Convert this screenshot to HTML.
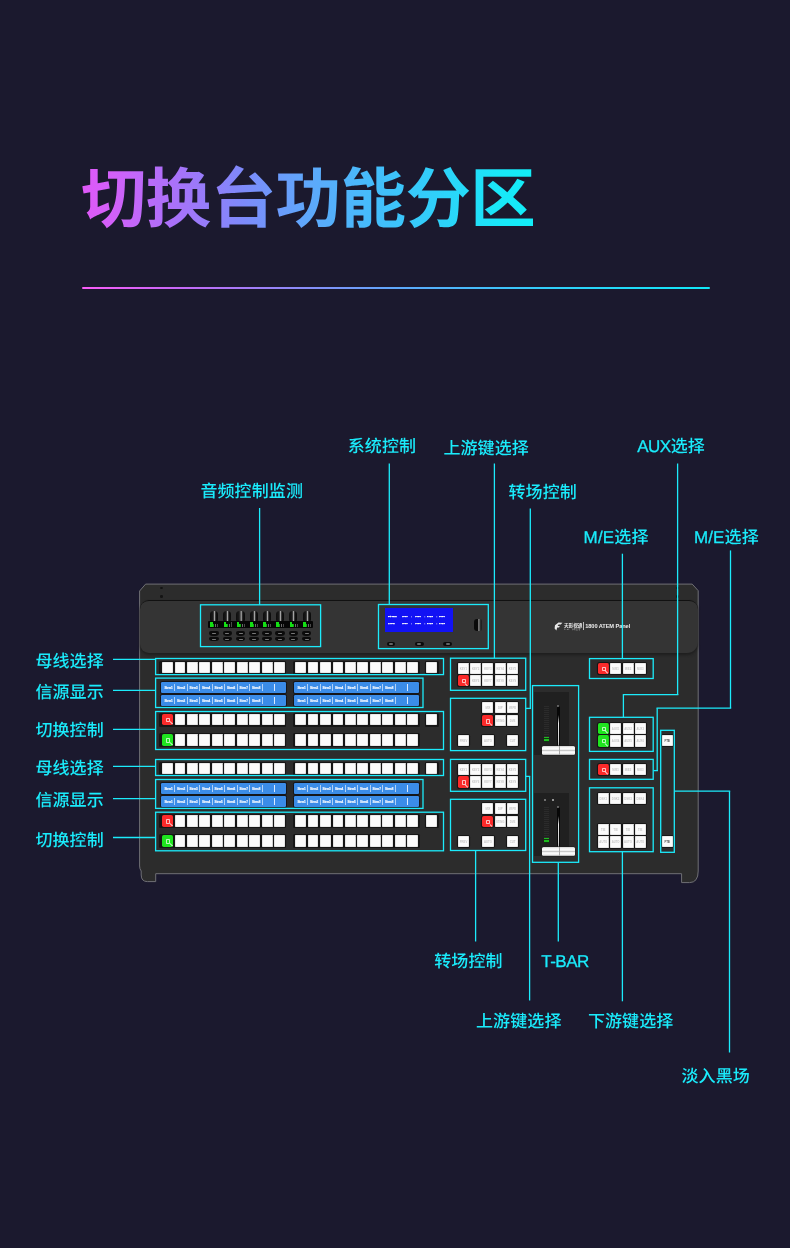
<!DOCTYPE html>
<html lang="zh-CN"><head><meta charset="utf-8"><title>切换台功能分区</title>
<style>
html,body{margin:0;padding:0}
body{width:790px;height:1248px;background:#1b192e;position:relative;overflow:hidden;font-family:"Liberation Sans","Noto Sans CJK SC",sans-serif}
#pg{position:absolute;left:0;top:0;width:790px;height:1248px;overflow:hidden;will-change:transform}
#pg div,#pg i,#pg span.abs{position:absolute;box-sizing:border-box}
h1{position:absolute;left:80.9px;top:152.9px;margin:0;font-size:65.5px;line-height:94px;font-weight:700;letter-spacing:-0.6px;text-rendering:geometricPrecision;white-space:nowrap;background:linear-gradient(90deg,#e058f8 0%,#d260f9 7%,#bd6af9 14%,#a872f9 21%,#7d8afa 36%,#6c9afb 43%,#5ea8fb 50%,#45bcfb 64%,#2ed2fa 79%,#18e8f8 93%,#12eef8 100%);-webkit-background-clip:text;background-clip:text;color:transparent;-webkit-text-fill-color:transparent}
.rule{left:82px;top:286.8px;width:628px;height:2.4px;background:linear-gradient(90deg,#fa5cf8,#c868f8 15%,#8a8cf9 35%,#5ea8fb 50%,#30d0fa 75%,#10e8f8);border-radius:1px}
.lb{text-rendering:geometricPrecision;color:#1aebfb;font-size:17px;line-height:20px;height:20px;margin-top:-0.5px;margin-left:-1.0px;white-space:nowrap;font-weight:500;letter-spacing:0.1px}
.lb span{letter-spacing:-0.5px;-webkit-text-stroke:0.3px #1aebfb}
.ov{position:absolute;left:0;top:0}
.scr{width:3px;height:2.2px;border-radius:50%;background:#141414}
.pinset{left:140.2px;top:600.1px;width:557.9px;height:52.6px;background:#343434;border-radius:9px 9px 11px 9px;border-top:1px solid #111;box-shadow:0 2px 3px 0 #1e1e1e}
.well{background:#171717;border-radius:1.5px}
i.b{position:absolute;display:block;background:#fbfbfb;border-radius:1.3px;box-shadow:0 0 0 1.1px #161616, inset 0 0 0 0.6px #d8d8d8;font-style:normal;font-size:2.8px;line-height:13.2px;text-align:center;color:#c8c8c8;overflow:hidden;font-weight:700;white-space:nowrap}
i.r{background:#fb2a2a;border-radius:1.8px;box-shadow:0 0 0 1.1px #161616}
i.g{background:#1fe51f;border-radius:1.8px;box-shadow:0 0 0 1.1px #161616}
i.b u{text-decoration:none;color:#555}
i.r:after,i.g:after{content:"";position:absolute;left:3.8px;top:4px;width:4.3px;height:4.3px;box-sizing:border-box;border:0.9px solid rgba(255,255,255,.7);border-radius:0.8px}
i.r:before,i.g:before{content:"";position:absolute;left:7.7px;top:7.5px;width:4px;height:1px;background:rgba(255,255,255,.8);transform:rotate(45deg);transform-origin:0 50%}
.disp{width:124.4px;height:11.2px;background:#3b8ce8;border-radius:1.2px;box-shadow:0 0 0 1px #15161a;display:flex!important}
.disp{padding-left:1.4px;color:#eef5ff;font-size:3px;line-height:8.4px;text-align:center;font-weight:700;-webkit-text-stroke:0.2px #eef5ff}
.disp b{display:block;flex:1;border-right:1px solid rgba(225,238,255,.7);margin:2.4px 0;position:relative;overflow:hidden;letter-spacing:-0.05px}
.disp b:nth-child(9){border-right-color:#dbeaff}
.disp b:nth-child(10){border-right:none;flex:0.9}
.astrip{left:207.8px;top:621px;width:105.3px;height:7px;background:#060606;border-radius:1px}
.knob{width:8.2px;height:10.6px;background:linear-gradient(90deg,#0c0c0c 0,#1a1a1a 35%,#4a4a4a 48%,#b5b5b5 58%,#3a3a3a 68%,#111 80%,#0a0a0a);border-radius:3.5px 3.5px 1px 1px}
.led{width:8px;height:4.6px;background:linear-gradient(90deg,#14e014 0 2.8px,#0fa80f 2.8px 4px,#060606 4px 5px,#6a6a6a 5px 6px,#060606 6px 6.8px,#4a4a4a 6.8px 7.6px,#060606 7.6px)}
.led:after{content:"";position:absolute;left:2.8px;top:0;width:5.2px;height:1.6px;background:#060606}
.sb{width:9.6px;height:4.3px;background:#0b0b0b;border-radius:2px 2px 4px 4px / 2px 2px 3px 3px}
.sb:after{content:"";position:absolute;left:2.8px;top:1.5px;width:4px;height:1.3px;background:#777;border-radius:1px}
.lcd{left:385.3px;top:608.4px;width:68px;height:24px;background:#1212f4;color:#fff;font-size:2.45px;font-weight:700;line-height:7px;padding:4.7px 0 0 0;white-space:pre}
.lcd span{display:block;position:relative;height:7px}
.lcd em{position:absolute;top:0;font-style:normal;-webkit-text-stroke:0.25px #fff;letter-spacing:0.12px}
.sb2{width:8.8px;height:3.8px;background:#0b0b0b;border-radius:2px}
.sb2:after{content:"";position:absolute;left:2.4px;top:1.3px;width:4px;height:1.3px;background:#666;border-radius:1px}
.enc{left:473.8px;top:619px;width:8px;height:12px;background:linear-gradient(90deg,#0a0a0a 0 45%,#555 50%,#8a8a8a 62%,#333 75%,#1a1a1a);border-radius:3px 2px 2px 3px}
.logo{left:554px;top:621.5px;height:10px;width:90px}
.logo svg{position:absolute;left:0;top:0.5px}
.lg1{position:absolute;left:10px;top:1.4px;font-size:4.6px;line-height:5px;color:#e6e6e6;font-weight:700;white-space:nowrap;letter-spacing:0}
.lg1 small{display:block;font-size:1.9px;line-height:3px;font-weight:400;letter-spacing:0.2px;color:#bbb}
.lgd{position:absolute;left:29.4px;top:0.8px;width:0.7px;height:8px;background:#bdbdbd}
.lg2{position:absolute;left:31.2px;top:1.3px;font-size:5.7px;line-height:7px;color:#ededed;font-weight:700;white-space:nowrap;letter-spacing:-0.1px}
.tb{left:533.8px;width:35px;height:63.1px;background:#202020}
.tled{left:10.6px;top:14px;width:4.8px;height:31px;background:repeating-linear-gradient(180deg,#2b2b2b 0 1px,#202020 1px 2px)}
.tgr{left:10.4px;top:45.3px;width:5px;height:4.4px;background:repeating-linear-gradient(180deg,#1dbb1d 0 1.4px,#103510 1.4px 2.3px)}
.rod{left:23.1px;top:14.2px;width:3px;height:40.3px;background:#070707;border-radius:1.5px}
.rod:after{content:"";position:absolute;left:1.2px;top:9px;width:1px;height:33px;background:linear-gradient(180deg,rgba(255,255,255,0),#e8e8e8 25%,#cfcfcf 80%,#888)}
.rod:before{content:"";position:absolute;left:0.6px;top:-1.2px;width:1.8px;height:1.8px;border-radius:1px;background:#777}
.hd{left:8.2px;top:54.2px;width:33.4px;height:9px;background:linear-gradient(180deg,#d0d0d0 0,#ffffff 22%,#f2f2f2 38%,#c9c9c9 50%,#f4f4f4 62%,#ffffff 80%,#a5a5a5 100%);border-radius:1.5px;box-shadow:0 0 0 0.5px #1a1a1a}
.hd:after{content:"";position:absolute;left:16.6px;top:0;width:1px;height:9px;background:#aaa}
.dots{left:10.5px;top:6px;width:10px;height:2px}
.dots:before,.dots:after{content:"";position:absolute;top:0;width:1.8px;height:1.8px;border-radius:1px;background:#8a8a8a}
.dots:before{left:0}.dots:after{left:7.5px;background:#bbb}
</style></head><body><div id="pg">
<h1>切换台功能分区</h1>
<div class="rule"></div>
<svg class="ov" width="790" height="1248" viewBox="0 0 790 1248"><path d="M139.6 591 L145.6 584.1 H692.2 L698.2 590.7 V871 Q698.2 882.6 689.5 882.6 H681.6 V873.7 H155.7 V881.6 H147.5 Q141.2 881.6 141.2 875 V871 Q139.6 869 139.6 866 Z" fill="#2c2c2c" stroke="#707076" stroke-width="1" stroke-linejoin="round"/></svg>
<div class="pinset"></div>
<div class="scr" style="left:160px;top:587.2px"></div>
<div class="scr" style="left:160px;top:595.4px"></div>
<div class="scr" style="left:676px;top:587.2px"></div>
<div class="scr" style="left:676px;top:595.4px"></div>
<div class="astrip"></div>
<div class="knob" style="left:210.0px;top:610.8px"></div>
<div class="led" style="left:210.3px;top:622.2px"></div>
<div class="sb" style="left:209.4px;top:631.3px"></div>
<div class="sb" style="left:209.4px;top:637.2px"></div>
<div class="knob" style="left:223.2px;top:610.8px"></div>
<div class="led" style="left:223.5px;top:622.2px"></div>
<div class="sb" style="left:222.6px;top:631.3px"></div>
<div class="sb" style="left:222.6px;top:637.2px"></div>
<div class="knob" style="left:236.4px;top:610.8px"></div>
<div class="led" style="left:236.7px;top:622.2px"></div>
<div class="sb" style="left:235.8px;top:631.3px"></div>
<div class="sb" style="left:235.8px;top:637.2px"></div>
<div class="knob" style="left:249.6px;top:610.8px"></div>
<div class="led" style="left:249.9px;top:622.2px"></div>
<div class="sb" style="left:249.0px;top:631.3px"></div>
<div class="sb" style="left:249.0px;top:637.2px"></div>
<div class="knob" style="left:262.8px;top:610.8px"></div>
<div class="led" style="left:263.1px;top:622.2px"></div>
<div class="sb" style="left:262.2px;top:631.3px"></div>
<div class="sb" style="left:262.2px;top:637.2px"></div>
<div class="knob" style="left:276.1px;top:610.8px"></div>
<div class="led" style="left:276.4px;top:622.2px"></div>
<div class="sb" style="left:275.4px;top:631.3px"></div>
<div class="sb" style="left:275.4px;top:637.2px"></div>
<div class="knob" style="left:289.3px;top:610.8px"></div>
<div class="led" style="left:289.6px;top:622.2px"></div>
<div class="sb" style="left:288.7px;top:631.3px"></div>
<div class="sb" style="left:288.7px;top:637.2px"></div>
<div class="knob" style="left:302.5px;top:610.8px"></div>
<div class="led" style="left:302.8px;top:622.2px"></div>
<div class="sb" style="left:301.9px;top:631.3px"></div>
<div class="sb" style="left:301.9px;top:637.2px"></div>
<div class="lcd"><span><em style="left:2.6px">Stream</em><em style="left:16.6px">7000</em><em style="left:26.0px">.</em><em style="left:29.8px">7000</em><em style="left:39.2px">.</em><em style="left:41.8px">0713</em><em style="left:51.2px">.</em><em style="left:53.8px">0000</em></span><span><em style="left:2.6px">Local</em><em style="left:16.6px">7000</em><em style="left:26.0px">.</em><em style="left:29.8px">7000</em><em style="left:39.2px">.</em><em style="left:41.8px">0713</em><em style="left:51.2px">.</em><em style="left:53.8px">0713</em></span></div>
<div class="sb2" style="left:386.6px;top:642px"></div>
<div class="sb2" style="left:415.0px;top:642px"></div>
<div class="sb2" style="left:443.4px;top:642px"></div>
<div class="enc"></div>
<div class="logo"><svg width="9" height="9" viewBox="0 0 9 9"><path d="M1 3.2 L4.5 0.6 L8.4 0.8 L6.8 2.6 L4.6 2.6 L3.6 4 L5.8 4 L5 5.4 L3.2 5.6 L2.4 8.4 L0.6 6.6 Z" fill="#e8e8e8"/></svg><span class="lg1">天影视通<small>TYST · 视听生活</small></span><span class="lgd"></span><span class="lg2">1800 ATEM Panel</span></div>
<div class="well" style="left:158.8px;top:660.5px;width:127.4px;height:14.0px"></div>
<div class="well" style="left:292.6px;top:660.5px;width:127.0px;height:14.0px"></div>
<i class="b" style="left:162.1px;top:661.8px;width:10.9px;height:11.5px"></i>
<i class="b" style="left:174.5px;top:661.8px;width:10.9px;height:11.5px"></i>
<i class="b" style="left:187.0px;top:661.8px;width:10.9px;height:11.5px"></i>
<i class="b" style="left:199.4px;top:661.8px;width:10.9px;height:11.5px"></i>
<i class="b" style="left:211.9px;top:661.8px;width:10.9px;height:11.5px"></i>
<i class="b" style="left:224.3px;top:661.8px;width:10.9px;height:11.5px"></i>
<i class="b" style="left:236.8px;top:661.8px;width:10.9px;height:11.5px"></i>
<i class="b" style="left:249.2px;top:661.8px;width:10.9px;height:11.5px"></i>
<i class="b" style="left:261.7px;top:661.8px;width:10.9px;height:11.5px"></i>
<i class="b" style="left:274.1px;top:661.8px;width:10.9px;height:11.5px"></i>
<i class="b" style="left:295.2px;top:661.8px;width:10.9px;height:11.5px"></i>
<i class="b" style="left:307.6px;top:661.8px;width:10.9px;height:11.5px"></i>
<i class="b" style="left:320.1px;top:661.8px;width:10.9px;height:11.5px"></i>
<i class="b" style="left:332.5px;top:661.8px;width:10.9px;height:11.5px"></i>
<i class="b" style="left:345.0px;top:661.8px;width:10.9px;height:11.5px"></i>
<i class="b" style="left:357.4px;top:661.8px;width:10.9px;height:11.5px"></i>
<i class="b" style="left:369.9px;top:661.8px;width:10.9px;height:11.5px"></i>
<i class="b" style="left:382.3px;top:661.8px;width:10.9px;height:11.5px"></i>
<i class="b" style="left:394.8px;top:661.8px;width:10.9px;height:11.5px"></i>
<i class="b" style="left:407.2px;top:661.8px;width:10.9px;height:11.5px"></i>
<div class="well" style="left:424.6px;top:660.5px;width:14.2px;height:14.0px"></div>
<i class="b" style="left:426.2px;top:661.8px;width:11.2px;height:11.5px"></i>
<div class="disp" style="left:161.4px;top:681.8px"><b>Strm1</b><b>Strm2</b><b>Strm3</b><b>Strm4</b><b>Strm5</b><b>Strm6</b><b>Strm7</b><b>Strm8</b><b></b><b></b></div>
<div class="disp" style="left:161.4px;top:694.8px"><b>Strm1</b><b>Strm2</b><b>Strm3</b><b>Strm4</b><b>Strm5</b><b>Strm6</b><b>Strm7</b><b>Strm8</b><b></b><b></b></div>
<div class="disp" style="left:294.4px;top:681.8px"><b>Strm1</b><b>Strm2</b><b>Strm3</b><b>Strm4</b><b>Strm5</b><b>Strm6</b><b>Strm7</b><b>Strm8</b><b></b><b></b></div>
<div class="disp" style="left:294.4px;top:694.8px"><b>Strm1</b><b>Strm2</b><b>Strm3</b><b>Strm4</b><b>Strm5</b><b>Strm6</b><b>Strm7</b><b>Strm8</b><b></b><b></b></div>
<div class="well" style="left:158.8px;top:712.5px;width:127.4px;height:14.0px"></div>
<div class="well" style="left:292.6px;top:712.5px;width:127.0px;height:14.0px"></div>
<i class="b r" style="left:162.1px;top:713.8px;width:10.9px;height:11.5px"></i>
<i class="b" style="left:174.5px;top:713.8px;width:10.9px;height:11.5px"></i>
<i class="b" style="left:187.0px;top:713.8px;width:10.9px;height:11.5px"></i>
<i class="b" style="left:199.4px;top:713.8px;width:10.9px;height:11.5px"></i>
<i class="b" style="left:211.9px;top:713.8px;width:10.9px;height:11.5px"></i>
<i class="b" style="left:224.3px;top:713.8px;width:10.9px;height:11.5px"></i>
<i class="b" style="left:236.8px;top:713.8px;width:10.9px;height:11.5px"></i>
<i class="b" style="left:249.2px;top:713.8px;width:10.9px;height:11.5px"></i>
<i class="b" style="left:261.7px;top:713.8px;width:10.9px;height:11.5px"></i>
<i class="b" style="left:274.1px;top:713.8px;width:10.9px;height:11.5px"></i>
<i class="b" style="left:295.2px;top:713.8px;width:10.9px;height:11.5px"></i>
<i class="b" style="left:307.6px;top:713.8px;width:10.9px;height:11.5px"></i>
<i class="b" style="left:320.1px;top:713.8px;width:10.9px;height:11.5px"></i>
<i class="b" style="left:332.5px;top:713.8px;width:10.9px;height:11.5px"></i>
<i class="b" style="left:345.0px;top:713.8px;width:10.9px;height:11.5px"></i>
<i class="b" style="left:357.4px;top:713.8px;width:10.9px;height:11.5px"></i>
<i class="b" style="left:369.9px;top:713.8px;width:10.9px;height:11.5px"></i>
<i class="b" style="left:382.3px;top:713.8px;width:10.9px;height:11.5px"></i>
<i class="b" style="left:394.8px;top:713.8px;width:10.9px;height:11.5px"></i>
<i class="b" style="left:407.2px;top:713.8px;width:10.9px;height:11.5px"></i>
<div class="well" style="left:424.6px;top:712.5px;width:14.2px;height:14.0px"></div>
<i class="b" style="left:426.2px;top:713.8px;width:11.2px;height:11.5px"></i>
<div class="well" style="left:158.8px;top:733.0px;width:127.4px;height:14.0px"></div>
<div class="well" style="left:292.6px;top:733.0px;width:127.0px;height:14.0px"></div>
<i class="b g" style="left:162.1px;top:734.3px;width:10.9px;height:11.5px"></i>
<i class="b" style="left:174.5px;top:734.3px;width:10.9px;height:11.5px"></i>
<i class="b" style="left:187.0px;top:734.3px;width:10.9px;height:11.5px"></i>
<i class="b" style="left:199.4px;top:734.3px;width:10.9px;height:11.5px"></i>
<i class="b" style="left:211.9px;top:734.3px;width:10.9px;height:11.5px"></i>
<i class="b" style="left:224.3px;top:734.3px;width:10.9px;height:11.5px"></i>
<i class="b" style="left:236.8px;top:734.3px;width:10.9px;height:11.5px"></i>
<i class="b" style="left:249.2px;top:734.3px;width:10.9px;height:11.5px"></i>
<i class="b" style="left:261.7px;top:734.3px;width:10.9px;height:11.5px"></i>
<i class="b" style="left:274.1px;top:734.3px;width:10.9px;height:11.5px"></i>
<i class="b" style="left:295.2px;top:734.3px;width:10.9px;height:11.5px"></i>
<i class="b" style="left:307.6px;top:734.3px;width:10.9px;height:11.5px"></i>
<i class="b" style="left:320.1px;top:734.3px;width:10.9px;height:11.5px"></i>
<i class="b" style="left:332.5px;top:734.3px;width:10.9px;height:11.5px"></i>
<i class="b" style="left:345.0px;top:734.3px;width:10.9px;height:11.5px"></i>
<i class="b" style="left:357.4px;top:734.3px;width:10.9px;height:11.5px"></i>
<i class="b" style="left:369.9px;top:734.3px;width:10.9px;height:11.5px"></i>
<i class="b" style="left:382.3px;top:734.3px;width:10.9px;height:11.5px"></i>
<i class="b" style="left:394.8px;top:734.3px;width:10.9px;height:11.5px"></i>
<i class="b" style="left:407.2px;top:734.3px;width:10.9px;height:11.5px"></i>
<div class="well" style="left:158.8px;top:761.6px;width:127.4px;height:14.0px"></div>
<div class="well" style="left:292.6px;top:761.6px;width:127.0px;height:14.0px"></div>
<i class="b" style="left:162.1px;top:762.9px;width:10.9px;height:11.5px"></i>
<i class="b" style="left:174.5px;top:762.9px;width:10.9px;height:11.5px"></i>
<i class="b" style="left:187.0px;top:762.9px;width:10.9px;height:11.5px"></i>
<i class="b" style="left:199.4px;top:762.9px;width:10.9px;height:11.5px"></i>
<i class="b" style="left:211.9px;top:762.9px;width:10.9px;height:11.5px"></i>
<i class="b" style="left:224.3px;top:762.9px;width:10.9px;height:11.5px"></i>
<i class="b" style="left:236.8px;top:762.9px;width:10.9px;height:11.5px"></i>
<i class="b" style="left:249.2px;top:762.9px;width:10.9px;height:11.5px"></i>
<i class="b" style="left:261.7px;top:762.9px;width:10.9px;height:11.5px"></i>
<i class="b" style="left:274.1px;top:762.9px;width:10.9px;height:11.5px"></i>
<i class="b" style="left:295.2px;top:762.9px;width:10.9px;height:11.5px"></i>
<i class="b" style="left:307.6px;top:762.9px;width:10.9px;height:11.5px"></i>
<i class="b" style="left:320.1px;top:762.9px;width:10.9px;height:11.5px"></i>
<i class="b" style="left:332.5px;top:762.9px;width:10.9px;height:11.5px"></i>
<i class="b" style="left:345.0px;top:762.9px;width:10.9px;height:11.5px"></i>
<i class="b" style="left:357.4px;top:762.9px;width:10.9px;height:11.5px"></i>
<i class="b" style="left:369.9px;top:762.9px;width:10.9px;height:11.5px"></i>
<i class="b" style="left:382.3px;top:762.9px;width:10.9px;height:11.5px"></i>
<i class="b" style="left:394.8px;top:762.9px;width:10.9px;height:11.5px"></i>
<i class="b" style="left:407.2px;top:762.9px;width:10.9px;height:11.5px"></i>
<div class="well" style="left:424.6px;top:761.6px;width:14.2px;height:14.0px"></div>
<i class="b" style="left:426.2px;top:762.9px;width:11.2px;height:11.5px"></i>
<div class="disp" style="left:161.4px;top:783.0px"><b>Strm1</b><b>Strm2</b><b>Strm3</b><b>Strm4</b><b>Strm5</b><b>Strm6</b><b>Strm7</b><b>Strm8</b><b></b><b></b></div>
<div class="disp" style="left:161.4px;top:796.0px"><b>Strm1</b><b>Strm2</b><b>Strm3</b><b>Strm4</b><b>Strm5</b><b>Strm6</b><b>Strm7</b><b>Strm8</b><b></b><b></b></div>
<div class="disp" style="left:294.4px;top:783.0px"><b>Strm1</b><b>Strm2</b><b>Strm3</b><b>Strm4</b><b>Strm5</b><b>Strm6</b><b>Strm7</b><b>Strm8</b><b></b><b></b></div>
<div class="disp" style="left:294.4px;top:796.0px"><b>Strm1</b><b>Strm2</b><b>Strm3</b><b>Strm4</b><b>Strm5</b><b>Strm6</b><b>Strm7</b><b>Strm8</b><b></b><b></b></div>
<div class="well" style="left:158.8px;top:814.0px;width:127.4px;height:14.0px"></div>
<div class="well" style="left:292.6px;top:814.0px;width:127.0px;height:14.0px"></div>
<i class="b r" style="left:162.1px;top:815.3px;width:10.9px;height:11.5px"></i>
<i class="b" style="left:174.5px;top:815.3px;width:10.9px;height:11.5px"></i>
<i class="b" style="left:187.0px;top:815.3px;width:10.9px;height:11.5px"></i>
<i class="b" style="left:199.4px;top:815.3px;width:10.9px;height:11.5px"></i>
<i class="b" style="left:211.9px;top:815.3px;width:10.9px;height:11.5px"></i>
<i class="b" style="left:224.3px;top:815.3px;width:10.9px;height:11.5px"></i>
<i class="b" style="left:236.8px;top:815.3px;width:10.9px;height:11.5px"></i>
<i class="b" style="left:249.2px;top:815.3px;width:10.9px;height:11.5px"></i>
<i class="b" style="left:261.7px;top:815.3px;width:10.9px;height:11.5px"></i>
<i class="b" style="left:274.1px;top:815.3px;width:10.9px;height:11.5px"></i>
<i class="b" style="left:295.2px;top:815.3px;width:10.9px;height:11.5px"></i>
<i class="b" style="left:307.6px;top:815.3px;width:10.9px;height:11.5px"></i>
<i class="b" style="left:320.1px;top:815.3px;width:10.9px;height:11.5px"></i>
<i class="b" style="left:332.5px;top:815.3px;width:10.9px;height:11.5px"></i>
<i class="b" style="left:345.0px;top:815.3px;width:10.9px;height:11.5px"></i>
<i class="b" style="left:357.4px;top:815.3px;width:10.9px;height:11.5px"></i>
<i class="b" style="left:369.9px;top:815.3px;width:10.9px;height:11.5px"></i>
<i class="b" style="left:382.3px;top:815.3px;width:10.9px;height:11.5px"></i>
<i class="b" style="left:394.8px;top:815.3px;width:10.9px;height:11.5px"></i>
<i class="b" style="left:407.2px;top:815.3px;width:10.9px;height:11.5px"></i>
<div class="well" style="left:424.6px;top:814.0px;width:14.2px;height:14.0px"></div>
<i class="b" style="left:426.2px;top:815.3px;width:11.2px;height:11.5px"></i>
<div class="well" style="left:158.8px;top:834.0px;width:127.4px;height:14.0px"></div>
<div class="well" style="left:292.6px;top:834.0px;width:127.0px;height:14.0px"></div>
<i class="b g" style="left:162.1px;top:835.3px;width:10.9px;height:11.5px"></i>
<i class="b" style="left:174.5px;top:835.3px;width:10.9px;height:11.5px"></i>
<i class="b" style="left:187.0px;top:835.3px;width:10.9px;height:11.5px"></i>
<i class="b" style="left:199.4px;top:835.3px;width:10.9px;height:11.5px"></i>
<i class="b" style="left:211.9px;top:835.3px;width:10.9px;height:11.5px"></i>
<i class="b" style="left:224.3px;top:835.3px;width:10.9px;height:11.5px"></i>
<i class="b" style="left:236.8px;top:835.3px;width:10.9px;height:11.5px"></i>
<i class="b" style="left:249.2px;top:835.3px;width:10.9px;height:11.5px"></i>
<i class="b" style="left:261.7px;top:835.3px;width:10.9px;height:11.5px"></i>
<i class="b" style="left:274.1px;top:835.3px;width:10.9px;height:11.5px"></i>
<i class="b" style="left:295.2px;top:835.3px;width:10.9px;height:11.5px"></i>
<i class="b" style="left:307.6px;top:835.3px;width:10.9px;height:11.5px"></i>
<i class="b" style="left:320.1px;top:835.3px;width:10.9px;height:11.5px"></i>
<i class="b" style="left:332.5px;top:835.3px;width:10.9px;height:11.5px"></i>
<i class="b" style="left:345.0px;top:835.3px;width:10.9px;height:11.5px"></i>
<i class="b" style="left:357.4px;top:835.3px;width:10.9px;height:11.5px"></i>
<i class="b" style="left:369.9px;top:835.3px;width:10.9px;height:11.5px"></i>
<i class="b" style="left:382.3px;top:835.3px;width:10.9px;height:11.5px"></i>
<i class="b" style="left:394.8px;top:835.3px;width:10.9px;height:11.5px"></i>
<i class="b" style="left:407.2px;top:835.3px;width:10.9px;height:11.5px"></i>
<i class="b" style="left:457.8px;top:662.5px;width:11.0px;height:11.2px">KEY1</i>
<i class="b" style="left:470.1px;top:662.5px;width:11.0px;height:11.2px">KEY2</i>
<i class="b" style="left:482.4px;top:662.5px;width:11.0px;height:11.2px">KEY3</i>
<i class="b" style="left:494.7px;top:662.5px;width:11.0px;height:11.2px">KEY4</i>
<i class="b" style="left:507.0px;top:662.5px;width:11.0px;height:11.2px">KEY5</i>
<i class="b r" style="left:457.8px;top:675.2px;width:11.0px;height:11.2px"></i>
<i class="b" style="left:470.1px;top:675.2px;width:11.0px;height:11.2px">KEY6</i>
<i class="b" style="left:482.4px;top:675.2px;width:11.0px;height:11.2px">KEY7</i>
<i class="b" style="left:494.7px;top:675.2px;width:11.0px;height:11.2px">KEY8</i>
<i class="b" style="left:507.0px;top:675.2px;width:11.0px;height:11.2px">KEY9</i>
<i class="b" style="left:457.8px;top:763.7px;width:11.0px;height:11.2px">KEY1</i>
<i class="b" style="left:470.1px;top:763.7px;width:11.0px;height:11.2px">KEY2</i>
<i class="b" style="left:482.4px;top:763.7px;width:11.0px;height:11.2px">KEY3</i>
<i class="b" style="left:494.7px;top:763.7px;width:11.0px;height:11.2px">KEY4</i>
<i class="b" style="left:507.0px;top:763.7px;width:11.0px;height:11.2px">KEY5</i>
<i class="b r" style="left:457.8px;top:776.4px;width:11.0px;height:11.2px"></i>
<i class="b" style="left:470.1px;top:776.4px;width:11.0px;height:11.2px">KEY6</i>
<i class="b" style="left:482.4px;top:776.4px;width:11.0px;height:11.2px">KEY7</i>
<i class="b" style="left:494.7px;top:776.4px;width:11.0px;height:11.2px">KEY8</i>
<i class="b" style="left:507.0px;top:776.4px;width:11.0px;height:11.2px">KEY9</i>
<i class="b" style="left:482.4px;top:702.3px;width:11.1px;height:11.1px">MIX</i>
<i class="b" style="left:494.7px;top:702.3px;width:11.1px;height:11.1px">DIP</i>
<i class="b" style="left:507.0px;top:702.3px;width:11.1px;height:11.1px">WIPE</i>
<i class="b r" style="left:482.4px;top:715.3px;width:11.1px;height:11.1px"></i>
<i class="b" style="left:494.7px;top:715.3px;width:11.1px;height:11.1px">STING</i>
<i class="b" style="left:507.0px;top:715.3px;width:11.1px;height:11.1px">DVE</i>
<i class="b" style="left:457.8px;top:734.7px;width:11.4px;height:11.6px">PREV</i>
<i class="b" style="left:482.3px;top:734.7px;width:11.4px;height:11.6px">AUTO</i>
<i class="b" style="left:506.9px;top:734.7px;width:11.4px;height:11.6px">CUT</i>
<i class="b" style="left:482.4px;top:803.2px;width:11.1px;height:11.1px">MIX</i>
<i class="b" style="left:494.7px;top:803.2px;width:11.1px;height:11.1px">DIP</i>
<i class="b" style="left:507.0px;top:803.2px;width:11.1px;height:11.1px">WIPE</i>
<i class="b r" style="left:482.4px;top:816.2px;width:11.1px;height:11.1px"></i>
<i class="b" style="left:494.7px;top:816.2px;width:11.1px;height:11.1px">STING</i>
<i class="b" style="left:507.0px;top:816.2px;width:11.1px;height:11.1px">DVE</i>
<i class="b" style="left:457.8px;top:835.6px;width:11.4px;height:11.6px">PREV</i>
<i class="b" style="left:482.3px;top:835.6px;width:11.4px;height:11.6px">AUTO</i>
<i class="b" style="left:506.9px;top:835.6px;width:11.4px;height:11.6px">CUT</i>
<div class="tb" style="top:691.9px"><div class="tled"></div><div class="tgr"></div><div class="rod"></div><div class="hd"></div></div>
<div class="tb" style="top:793.0px"><div class="tled"></div><div class="tgr"></div><div class="rod"></div><div class="hd"></div><div class="dots"></div></div>
<i class="b r" style="left:597.8px;top:662.7px;width:11.0px;height:11.3px"></i>
<i class="b" style="left:610.1px;top:662.7px;width:11.0px;height:11.3px">M/E1</i>
<i class="b" style="left:622.5px;top:662.7px;width:11.0px;height:11.3px">M/E2</i>
<i class="b" style="left:634.8px;top:662.7px;width:11.0px;height:11.3px">M/E3</i>
<i class="b r" style="left:597.8px;top:763.7px;width:11.0px;height:11.3px"></i>
<i class="b" style="left:610.1px;top:763.7px;width:11.0px;height:11.3px">M/E1</i>
<i class="b" style="left:622.5px;top:763.7px;width:11.0px;height:11.3px">M/E2</i>
<i class="b" style="left:634.8px;top:763.7px;width:11.0px;height:11.3px">M/E3</i>
<i class="b g" style="left:597.8px;top:722.5px;width:11.0px;height:11.2px"></i>
<i class="b" style="left:610.1px;top:722.5px;width:11.0px;height:11.2px">AUX1</i>
<i class="b" style="left:622.5px;top:722.5px;width:11.0px;height:11.2px">AUX2</i>
<i class="b" style="left:634.8px;top:722.5px;width:11.0px;height:11.2px">AUX3</i>
<i class="b g" style="left:597.8px;top:735.2px;width:11.0px;height:11.4px"></i>
<i class="b" style="left:610.1px;top:735.2px;width:11.0px;height:11.4px">AUX4</i>
<i class="b" style="left:622.5px;top:735.2px;width:11.0px;height:11.4px">AUX5</i>
<i class="b" style="left:634.8px;top:735.2px;width:11.0px;height:11.4px">AUX6</i>
<i class="b" style="left:597.8px;top:792.7px;width:11.0px;height:11.5px">DSK1</i>
<i class="b" style="left:610.1px;top:792.7px;width:11.0px;height:11.5px">DSK2</i>
<i class="b" style="left:622.5px;top:792.7px;width:11.0px;height:11.5px">DSK3</i>
<i class="b" style="left:634.8px;top:792.7px;width:11.0px;height:11.5px">DSK4</i>
<i class="b" style="left:597.8px;top:824.0px;width:11.0px;height:11.2px">TIE</i>
<i class="b" style="left:610.1px;top:824.0px;width:11.0px;height:11.2px">TIE</i>
<i class="b" style="left:622.5px;top:824.0px;width:11.0px;height:11.2px">TIE</i>
<i class="b" style="left:634.8px;top:824.0px;width:11.0px;height:11.2px">TIE</i>
<i class="b" style="left:597.8px;top:836.4px;width:11.0px;height:11.3px">AUTO</i>
<i class="b" style="left:610.1px;top:836.4px;width:11.0px;height:11.3px">AUTO</i>
<i class="b" style="left:622.5px;top:836.4px;width:11.0px;height:11.3px">AUTO</i>
<i class="b" style="left:634.8px;top:836.4px;width:11.0px;height:11.3px">AUTO</i>
<i class="b" style="left:661.6px;top:735.2px;width:11.1px;height:11.2px"><u>FTB</u></i>
<i class="b" style="left:661.6px;top:836.1px;width:11.1px;height:11.4px"><u>FTB</u></i>
<div class="lb" style="left:348.7px;top:437.2px">系统控制</div>
<div class="lb" style="left:444.4px;top:439.2px">上游键选择</div>
<div class="lb" style="left:638.2px;top:437.5px"><span>AUX</span>选择</div>
<div class="lb" style="left:201.4px;top:482.2px">音频控制监测</div>
<div class="lb" style="left:509.5px;top:483.3px">转场控制</div>
<div class="lb" style="left:584.6px;top:528.8px"><span style="letter-spacing:0.15px">M/E</span>选择</div>
<div class="lb" style="left:694.9px;top:528.8px"><span style="letter-spacing:0.15px">M/E</span>选择</div>
<div class="lb" style="left:36.4px;top:652.5px">母线选择</div>
<div class="lb" style="left:36.4px;top:683.9px">信源显示</div>
<div class="lb" style="left:36.4px;top:721.2px">切换控制</div>
<div class="lb" style="left:36.4px;top:759.5px">母线选择</div>
<div class="lb" style="left:36.4px;top:791.7px">信源显示</div>
<div class="lb" style="left:36.4px;top:831.5px">切换控制</div>
<div class="lb" style="left:435.2px;top:952.4px">转场控制</div>
<div class="lb" style="left:542.2px;top:952.4px"><span>T-BAR</span></div>
<div class="lb" style="left:477.0px;top:1012.3px">上游键选择</div>
<div class="lb" style="left:588.9px;top:1012.7px">下游键选择</div>
<div class="lb" style="left:682.5px;top:1067.6px">淡入黑场</div>
<svg class="ov" width="790" height="1248" viewBox="0 0 790 1248" fill="none" stroke="#1cebfb" stroke-width="1.3"><rect x="200.5" y="604.8" width="120.1" height="41.8"/><rect x="378.5" y="604.5" width="109.8" height="44.1"/><rect x="155.6" y="658.5" width="287.9" height="16.1"/><rect x="155.6" y="678.1" width="267.4" height="29.4"/><rect x="155.6" y="711.5" width="287.9" height="38.0"/><rect x="155.6" y="759.5" width="287.9" height="16.0"/><rect x="155.6" y="779.5" width="267.4" height="28.9"/><rect x="155.6" y="812.2" width="287.9" height="38.6"/><rect x="450.5" y="658.2" width="75.2" height="32.1"/><rect x="450.5" y="698.3" width="75.2" height="52.3"/><rect x="450.5" y="759.4" width="75.2" height="31.9"/><rect x="450.5" y="799.3" width="75.2" height="51.2"/><rect x="532.5" y="685.6" width="46.1" height="176.7"/><rect x="589.5" y="658.6" width="63.7" height="19.9"/><rect x="589.5" y="717.3" width="63.7" height="34.1"/><rect x="589.5" y="759.4" width="63.7" height="19.9"/><rect x="589.5" y="787.8" width="63.7" height="63.9"/><rect x="660.7" y="730.3" width="13.6" height="122.0"/><path d="M259.6 508.0V604.8"/><path d="M389.3 463.5V604.5"/><path d="M494.4 463.5V658.2"/><path d="M530.3 508.6V708.4"/><path d="M526.0 708.4H531.0"/><path d="M622.4 553.7V658.6"/><path d="M677.6 463.5V694.7"/><path d="M622.8 694.7H678.4"/><path d="M623.4 694.7V717.3"/><path d="M730.5 550.4V708.2"/><path d="M656.5 708.2H731.2"/><path d="M657.2 708.2V770.6"/><path d="M653.5 770.6H658.0"/><path d="M113.0 659.4H155.6"/><path d="M113.0 690.3H155.6"/><path d="M113.0 729.4H155.6"/><path d="M113.0 766.4H155.6"/><path d="M113.0 798.6H155.6"/><path d="M113.0 837.5H155.6"/><path d="M475.6 850.5V941.5"/><path d="M526.0 776.4H530.2"/><path d="M529.6 776.4V1000.5"/><path d="M558.3 862.3V941.5"/><path d="M622.4 852.0V1001.3"/><path d="M674.5 791.2H730.2"/><path d="M729.5 791.2V1052.4"/></svg>
</div></body></html>
